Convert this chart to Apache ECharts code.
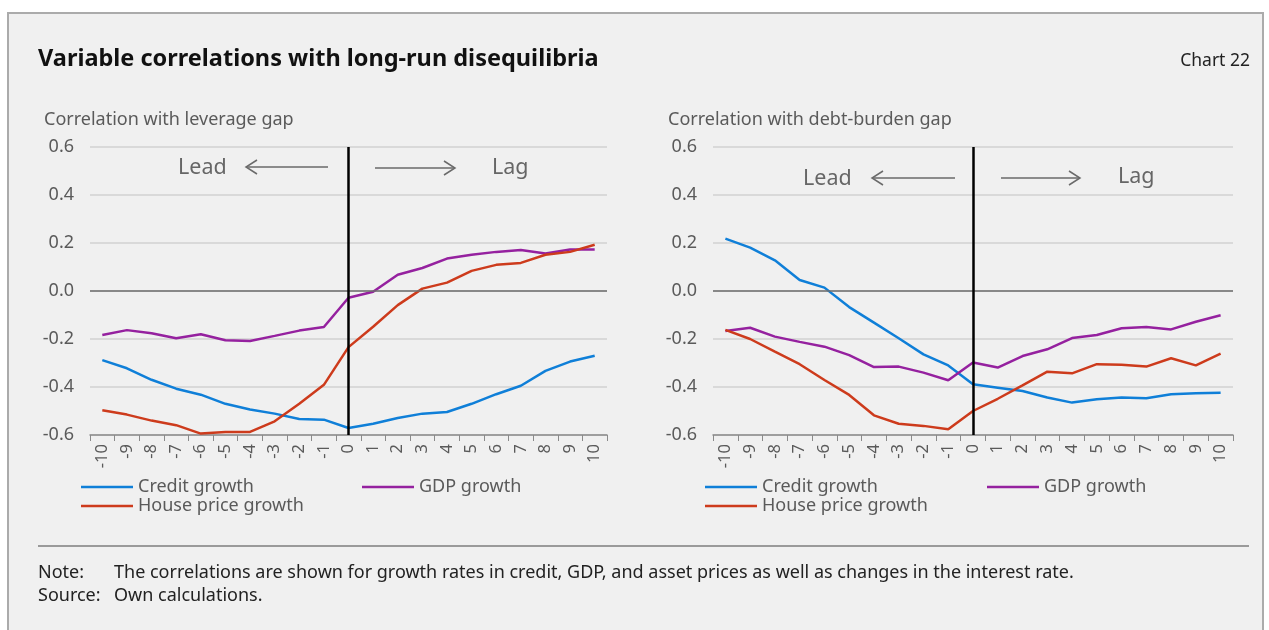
<!DOCTYPE html>
<html>
<head>
<meta charset="utf-8">
<script src="https://cdn.jsdelivr.net/npm/echarts@6/dist/echarts.min.js"></script>
<style>
html,body{margin:0;padding:0;background:#fff;width:1269px;height:630px;overflow:hidden;}
#frame{position:absolute;left:7px;top:12px;width:1253px;height:640px;border:2px solid #ababab;border-bottom:none;background:#f0f0f0;}
#chart{position:absolute;left:0;top:0;width:1269px;height:630px;}
</style>
</head>
<body>
<div id="frame"></div>
<div id="chart"></div>
<script>
// ---- data ----
const lags = ['-10','-9','-8','-7','-6','-5','-4','-3','-2','-1','0','1','2','3','4','5','6','7','8','9','10'];
const seriesNames = ['Credit growth','GDP growth','House price growth'];
const leverageCredit = [-0.288,-0.322,-0.370,-0.407,-0.432,-0.470,-0.494,-0.511,-0.533,-0.536,-0.571,-0.553,-0.529,-0.511,-0.504,-0.470,-0.430,-0.395,-0.333,-0.294,-0.270];
const leverageGDP    = [-0.183,-0.163,-0.176,-0.197,-0.180,-0.205,-0.208,-0.187,-0.165,-0.150,-0.028,-0.003,0.068,0.096,0.135,0.151,0.163,0.171,0.156,0.173,0.173];
const leverageHouse  = [-0.497,-0.515,-0.540,-0.559,-0.594,-0.587,-0.587,-0.543,-0.470,-0.391,-0.234,-0.149,-0.059,0.010,0.035,0.084,0.109,0.117,0.151,0.163,0.193];
const debtCredit = [0.218,0.181,0.128,0.046,0.014,-0.067,-0.132,-0.197,-0.264,-0.310,-0.389,-0.403,-0.417,-0.444,-0.465,-0.451,-0.444,-0.447,-0.430,-0.426,-0.424];
const debtGDP    = [-0.167,-0.153,-0.190,-0.212,-0.232,-0.267,-0.317,-0.315,-0.340,-0.372,-0.298,-0.319,-0.271,-0.243,-0.196,-0.183,-0.155,-0.150,-0.160,-0.128,-0.101];
const debtHouse  = [-0.162,-0.200,-0.253,-0.305,-0.371,-0.433,-0.518,-0.553,-0.562,-0.576,-0.500,-0.449,-0.393,-0.336,-0.343,-0.305,-0.307,-0.315,-0.280,-0.310,-0.261];
const yTicks = {min:-0.6, max:0.6, interval:0.2};

const COLORS = ['#0f7fd8','#95219f','#cd3b1c'];
const FONT = '"Noto Sans", "Open Sans", sans-serif';
const GRAY = '#5a5a5a';

const grids = [
  {left:90, top:147, width:517, height:288},
  {left:713, top:147, width:520, height:288}
];

function xAx(i){
  return {type:'category', gridIndex:i, data:lags, boundaryGap:true,
    axisLine:{show:true, onZero:false, lineStyle:{color:'#8a8a8a', width:1.5}},
    axisTick:{show:true, length:6, lineStyle:{color:'#8a8a8a'}},
    axisLabel:{rotate:90, color:GRAY, fontFamily:FONT, fontSize:16.5, margin:9, interval:0}};
}
function yAx(i){
  return {type:'value', gridIndex:i, min:yTicks.min, max:yTicks.max, interval:yTicks.interval,
    axisLine:{show:false}, axisTick:{show:false},
    axisLabel:{color:GRAY, fontFamily:FONT, fontSize:18, margin:16, formatter:v=>v.toFixed(1)},
    splitLine:{lineStyle:{color:'#d2d2d2', width:1.5}}};
}
function line(name, data, idx, color, extra){
  const s = {type:'line', name, data, xAxisIndex:idx, yAxisIndex:idx, symbol:'none',
    lineStyle:{color, width:2.5}, itemStyle:{color}, z:3, animation:false};
  return Object.assign(s, extra||{});
}
function refLines(){
  return {markLine:{silent:true, symbol:'none', label:{show:false}, animation:false,
    data:[
      {yAxis:0, lineStyle:{color:'#6e6e6e', width:1.5, type:'solid'}},
      {xAxis:'0', lineStyle:{color:'#000', width:2.5, type:'solid'}}
    ]}};
}

const series = [
  line(seriesNames[0], leverageCredit, 0, COLORS[0], refLines()),
  line(seriesNames[1], leverageGDP, 0, COLORS[1]),
  line(seriesNames[2], leverageHouse, 0, COLORS[2]),
  line(seriesNames[0], debtCredit, 1, COLORS[0], refLines()),
  line(seriesNames[1], debtGDP, 1, COLORS[1]),
  line(seriesNames[2], debtHouse, 1, COLORS[2])
];

function leg(name, left, top){
  return {data:[name], left, top, orient:'horizontal', icon:'rect', itemWidth:52, itemHeight:2.5, itemGap:0,
    padding:0, selectedMode:false,
    textStyle:{color:GRAY, fontFamily:FONT, fontSize:18, padding:0}};
}
const legends = [
  leg(seriesNames[0], 81, 478), leg(seriesNames[1], 362, 478), leg(seriesNames[2], 81, 497),
  leg(seriesNames[0], 705, 478), leg(seriesNames[1], 987, 478), leg(seriesNames[2], 705, 497)
];

function arrow(x1, x2, y, dir){
  const hx = dir < 0 ? x1 : x2;
  const bx = hx - dir * 11;
  return [
    {type:'line', shape:{x1, y1:y, x2, y2:y}, style:{stroke:'#6a6a6a', lineWidth:1.5}},
    {type:'polyline', shape:{points:[[bx, y-7],[hx, y],[bx, y+7]]}, style:{stroke:'#6a6a6a', lineWidth:1.5, fill:null}}
  ];
}
function txt(text, x, y, opts){
  return {type:'text', left:x, top:y, style:Object.assign({text, fill:GRAY, font:'18px ' + FONT}, opts||{})};
}
const LL = '21.5px ' + FONT;
const graphic = [
  txt('Variable correlations with long-run disequilibria', 38, 47, {fill:'#111', font:'bold 23.5px ' + FONT}),
  {type:'text', right:19, top:52, style:{text:'Chart 22', fill:'#222', font:'17.5px ' + FONT}},
  txt('Correlation with leverage gap', 44, 111),
  txt('Correlation with debt-burden gap', 668, 111),
  txt('Lead', 178, 157, {font:LL, fill:'#666'}),
  txt('Lag', 492, 157, {font:LL, fill:'#666'}),
  txt('Lead', 803, 168, {font:LL, fill:'#666'}),
  txt('Lag', 1118, 166, {font:LL, fill:'#666'}),
  ...arrow(246, 328, 167, -1),
  ...arrow(375, 455, 168, 1),
  ...arrow(872, 955, 178, -1),
  ...arrow(1001, 1080, 178, 1),
  {type:'line', shape:{x1:38, y1:546, x2:1249, y2:546}, style:{stroke:'#9a9a9a', lineWidth:2}},
  txt('Note:', 38, 564, {fill:'#222'}),
  txt('The correlations are shown for growth rates in credit, GDP, and asset prices as well as changes in the interest rate.', 114, 564, {fill:'#222'}),
  txt('Source:', 38, 587, {fill:'#222'}),
  txt('Own calculations.', 114, 587, {fill:'#222'})
];

const chart = echarts.init(document.getElementById('chart'), null, {renderer:'canvas'});
chart.setOption({
  backgroundColor:'transparent',
  animation:false,
  textStyle:{fontFamily:FONT},
  grid:grids,
  xAxis:[xAx(0), xAx(1)],
  yAxis:[yAx(0), yAx(1)],
  legend:legends,
  series,
  graphic
});
</script>
</body>
</html>
